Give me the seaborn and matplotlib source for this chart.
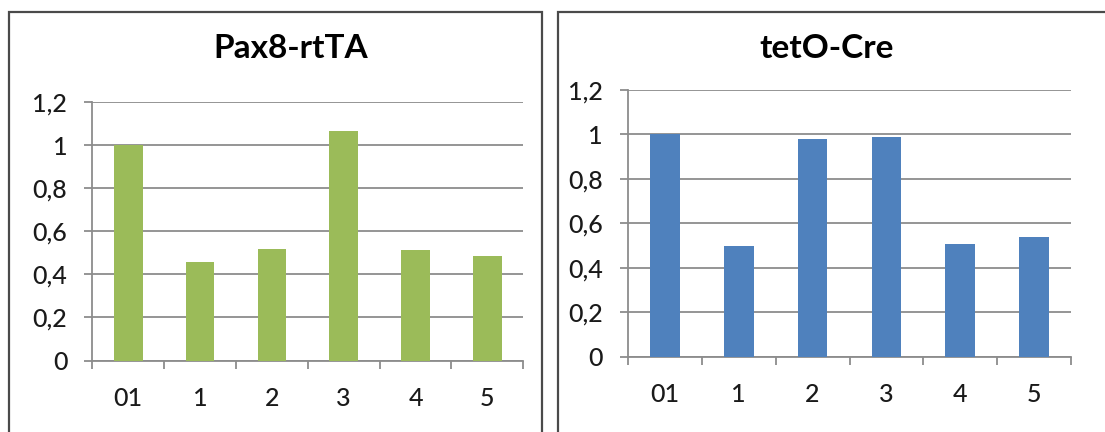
import matplotlib
matplotlib.use("Agg")
import matplotlib.pyplot as plt
import seaborn as sns
import pandas as pd
from matplotlib.patches import Rectangle

# ---- data ----
categories = ["01", "1", "2", "3", "4", "5"]
pax8_values = [1.0, 0.46, 0.52, 1.065, 0.515, 0.487]
teto_values = [1.0, 0.50, 0.98, 0.99, 0.505, 0.537]
titles = ["Pax8-rtTA", "tetO-Cre"]
y_ticks = [0, 0.2, 0.4, 0.6, 0.8, 1.0, 1.2]
y_tick_labels = ["0", "0,2", "0,4", "0,6", "0,8", "1", "1,2"]

GREEN = "#9BBB59"
BLUE = "#4F81BD"
GRID = "#8C8C8C"
TEXT = "#1A1A1A"

sns.set_theme(style="white")
plt.rcParams["font.family"] = ["Lato", "DejaVu Sans"]

W, H = 1105, 432
fig = plt.figure(figsize=(W / 100, H / 100), dpi=100)

def fx(px):
    return px / W

def fy(py):
    return 1 - py / H

# panel borders
fig.patches.append(Rectangle((fx(9), fy(470)), fx(542) - fx(9), fy(12) - fy(470),
                             transform=fig.transFigure, fill=False,
                             edgecolor="#4a4a4a", linewidth=1.6, zorder=0))
fig.patches.append(Rectangle((fx(558), fy(470)), fx(1160) - fx(558), fy(12) - fy(470),
                             transform=fig.transFigure, fill=False,
                             edgecolor="#4a4a4a", linewidth=1.6, zorder=0))

axes_px = [
    (92.3, 523.3, 102.3, 360.5),
    (628.0, 1071.0, 90.0, 356.7),
]
title_pos = [(291, 48), (827, 48)]
series = [pax8_values, teto_values]
colors = [GREEN, BLUE]

for i in range(2):
    x0, x1, ytop, ybot = axes_px[i]
    ax = fig.add_axes([fx(x0), fy(ybot), fx(x1) - fx(x0), fy(ytop) - fy(ybot)])
    df = pd.DataFrame({"cat": categories, "val": series[i]})
    sns.barplot(data=df, x="cat", y="val", color=colors[i], saturation=1,
                width=0.4, ax=ax, zorder=3, linewidth=0, edgecolor="none")
    ax.set_xlim(-0.5, len(categories) - 0.5)
    ax.set_ylim(0, 1.2)
    ax.set_yticks(y_ticks)
    ax.set_yticklabels(y_tick_labels)
    ax.set_xlabel("")
    ax.set_ylabel("")
    ax.yaxis.grid(True, color=GRID, linewidth=1.3, zorder=0)
    ax.set_axisbelow(True)
    for s in ["top", "right"]:
        ax.spines[s].set_visible(False)
    for s in ["left", "bottom"]:
        ax.spines[s].set_color(GRID)
        ax.spines[s].set_linewidth(1.3)
    ax.tick_params(axis="y", which="major", direction="out", length=6, width=1.3,
                   color=GRID, left=True, pad=12, labelsize=18, labelcolor=TEXT)
    ax.tick_params(axis="x", which="major", length=0, pad=19, labelsize=18,
                   labelcolor=TEXT)
    ax.set_xticks([k - 0.5 for k in range(len(categories) + 1)], minor=True)
    ax.tick_params(axis="x", which="minor", direction="out", length=5.5, width=1.3,
                   color=GRID, bottom=True)
    for lab in ax.get_xticklabels() + ax.get_yticklabels():
        lab.set_fontweight("medium")
    tx, ty = title_pos[i]
    fig.text(fx(tx), fy(ty), titles[i], ha="center", va="center",
             fontsize=24, fontweight="bold", color="black")

fig.savefig("out.png", dpi=100, facecolor="white")
